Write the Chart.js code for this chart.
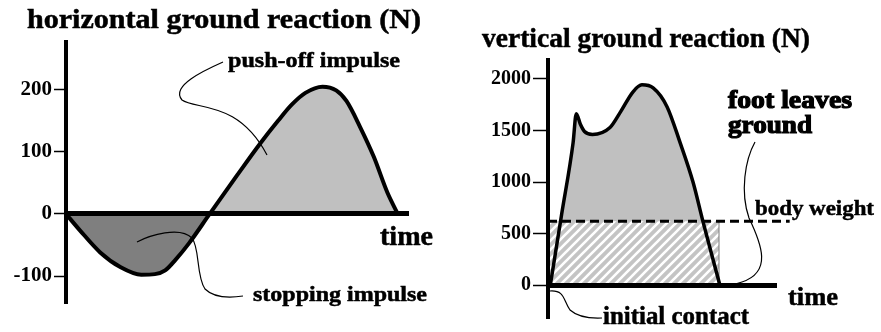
<!DOCTYPE html>
<html>
<head>
<meta charset="utf-8">
<script src="https://cdn.jsdelivr.net/npm/chart.js@4/dist/chart.umd.min.js"></script>
<style>
    body { margin: 0; background: #fff; }
    canvas { position: absolute; top: 0; display: block; }
    #hChart { left: 0; }
    #vChart { left: 440px; }
</style>
</head>
<body>
<canvas id="hChart" width="440" height="332" style="width:440px;height:332px"></canvas>
<canvas id="vChart" width="441" height="332" style="width:441px;height:332px"></canvas>
<script>
// horizontal ground reaction (N) over time (0-100 of contact)
const hTime  = [0, 4, 10, 16, 22, 26, 29, 32, 36, 42, 50, 57, 62, 66, 70, 75, 79, 82, 86, 90, 94, 97];
const hForce = [0, -26, -62, -86, -98, -97, -91, -74, -47, 0, 62, 115, 150, 176, 195, 205, 199, 182, 140, 92, 34, 0];
const hTicks = [-100, 0, 100, 200];

// vertical ground reaction (N)
const vTime  = [1, 6, 11, 12.4, 14.2, 16, 19.5, 27.2, 31.6, 37.3, 41.2, 46.1, 52.2, 57.9, 63.6, 68, 75.4];
const vForce = [0, 690, 1380, 1663, 1560, 1490, 1462, 1529, 1673, 1875, 1942, 1913, 1731, 1385, 1000, 615, 0];
const vTicks = [0, 500, 1000, 1500, 2000];
const bodyWeight = 620;
const weightAreaEnd = 75;   // foot leaves ground
const weightLineEnd = 106;

const FONT = '"Liberation Serif", "Times New Roman", serif';

function pts(xs, ys) {
    return xs.map((x, i) => ({ x: x, y: ys[i] }));
}

// text stretched to the width it has in the original drawing
function drawText(ctx, str, x, y, size, width, heavy) {
    ctx.save();
    ctx.font = `bold ${size}px ${FONT}`;
    const w = ctx.measureText(str).width;
    ctx.translate(x, y);
    ctx.scale(width / w, 1);
    ctx.fillStyle = '#000';
    ctx.textBaseline = 'alphabetic';
    ctx.fillText(str, 0, 0);
    ctx.lineWidth = heavy ? 1.2 : 0.5;
    ctx.strokeStyle = '#000';
    ctx.strokeText(str, 0, 0);
    ctx.restore();
}

function leader(ctx, draw) {
    ctx.save();
    ctx.beginPath();
    draw(ctx);
    ctx.lineWidth = 1.2;
    ctx.strokeStyle = '#000';
    ctx.stroke();
    ctx.restore();
}

function hatchPattern() {
    const s = 9;
    const c = document.createElement('canvas');
    c.width = s; c.height = s;
    const g = c.getContext('2d');
    g.fillStyle = '#c4c4c4';
    g.fillRect(0, 0, s, s);
    g.strokeStyle = '#fff';
    g.lineWidth = 2.6;
    g.beginPath();
    g.moveTo(-s, s); g.lineTo(s, -s);
    g.moveTo(0, s); g.lineTo(s, 0);
    g.moveTo(0, 2 * s); g.lineTo(2 * s, 0);
    g.stroke();
    return g.createPattern(c, 'repeat');
}

function yAxis(min, max, ticks, width, tickLen, size) {
    return {
        min: min, max: max,
        afterBuildTicks: (s) => { s.ticks = ticks.map(v => ({ value: v })); },
        afterFit: (s) => { s.width = width; },
        grid: { drawOnChartArea: false, drawTicks: true, tickLength: tickLen, tickWidth: 1.5, tickColor: '#000' },
        border: { display: true, width: 4, color: '#000', z: 1 },
        ticks: {
            color: '#000', padding: 2,
            font: { family: FONT, size: size, weight: 'bold' },
            callback: (v) => String(v)
        }
    };
}

function xAxis() {
    return {
        type: 'linear', min: 0, max: 100,
        position: { y: 0 },
        ticks: { display: false },
        grid: { display: false },
        border: { display: true, width: 5, color: '#000', z: 1 }
    };
}

const baseOptions = {
    responsive: false,
    animation: false,
    devicePixelRatio: 1,
    events: [],
    plugins: { legend: { display: false }, tooltip: { enabled: false } }
};

// 1. horizontal chart
new Chart(document.getElementById('hChart'), {
    type: 'line',
    data: {
        datasets: [{
            data: pts(hTime, hForce),
            borderColor: '#000',
            borderWidth: 4,
            pointRadius: 0,
            cubicInterpolationMode: 'monotone',
            fill: { target: 'origin', above: '#c0c0c0', below: '#7f7f7f' }
        }]
    },
    options: {
        ...baseOptions,
        layout: { padding: { left: 0, top: 42, right: 32, bottom: 29 } },
        scales: { x: xAxis(), y: yAxis(-143.5, 277, hTicks, 66, 12, 21) }
    },
    plugins: [{
        id: 'hNotes',
        afterDraw(chart) {
            const ctx = chart.ctx;
            drawText(ctx, 'horizontal ground reaction (N)', 27, 28, 27, 394);
            drawText(ctx, 'push-off impulse', 228, 67, 21, 172);
            drawText(ctx, 'stopping impulse', 253, 301, 21, 174);
            drawText(ctx, 'time', 380, 245, 27, 53);
            leader(ctx, c => {
                c.moveTo(223, 62);
                c.bezierCurveTo(205, 70, 170, 86, 182, 100);
                c.bezierCurveTo(196, 110, 238, 100, 267, 155);
            });
            leader(ctx, c => {
                c.moveTo(137, 242);
                c.bezierCurveTo(150, 235, 180, 226, 192, 238);
                c.bezierCurveTo(200, 248, 196, 276, 205, 289);
                c.quadraticCurveTo(216, 300, 243, 296);
            });
        }
    }]
});

// 2. vertical chart
new Chart(document.getElementById('vChart'), {
    type: 'line',
    data: {
        datasets: [{
            // area under the force curve
            data: pts(vTime, vForce),
            borderWidth: 0,
            pointRadius: 0,
            cubicInterpolationMode: 'monotone',
            backgroundColor: '#c0c0c0',
            fill: 'origin',
            order: 4
        }, {
            // body weight impulse
            data: [{ x: 0, y: bodyWeight }, { x: weightAreaEnd, y: bodyWeight }],
            borderWidth: 0,
            pointRadius: 0,
            backgroundColor: hatchPattern(),
            fill: 'origin',
            order: 3
        }, {
            data: [{ x: weightAreaEnd, y: 0 }, { x: weightAreaEnd, y: bodyWeight }],
            borderColor: '#7a7a7a',
            borderWidth: 1,
            pointRadius: 0,
            fill: false,
            order: 2
        }, {
            data: pts(vTime, vForce),
            borderColor: '#000',
            borderWidth: 3.5,
            pointRadius: 0,
            cubicInterpolationMode: 'monotone',
            fill: false,
            order: 1
        }, {
            data: [{ x: 0, y: bodyWeight }, { x: weightLineEnd, y: bodyWeight }],
            borderColor: '#000',
            borderWidth: 3,
            borderDash: [9, 5],
            pointRadius: 0,
            fill: false,
            clip: false,
            order: 0
        }]
    },
    options: {
        ...baseOptions,
        layout: { padding: { left: 0, top: 60, right: 105, bottom: 12 } },
        scales: { x: xAxis(), y: yAxis(-317, 2183, vTicks, 108, 15, 20) }
    },
    plugins: [{
        id: 'vNotes',
        afterDraw(chart) {
            const ctx = chart.ctx;
            drawText(ctx, 'vertical ground reaction (N)', 42, 47, 27, 328);
            drawText(ctx, 'foot leaves', 288, 108, 26, 124, true);
            drawText(ctx, 'ground', 288, 133, 26, 84, true);
            drawText(ctx, 'body weight', 315, 215, 22, 119);
            drawText(ctx, 'time', 348, 305, 25, 50);
            drawText(ctx, 'initial contact', 163, 324, 25, 146);
            leader(ctx, c => {
                c.moveTo(315, 142);
                c.bezierCurveTo(305, 160, 300, 192, 309, 218);
                c.bezierCurveTo(322, 245, 332, 272, 302, 282);
                c.quadraticCurveTo(290, 286, 280, 286);
            });
            leader(ctx, c => {
                c.moveTo(110, 291);
                c.bezierCurveTo(125, 290, 123, 300, 130, 310);
                c.quadraticCurveTo(140, 319, 162, 318);
            });
        }
    }]
});
</script>
</body>
</html>
